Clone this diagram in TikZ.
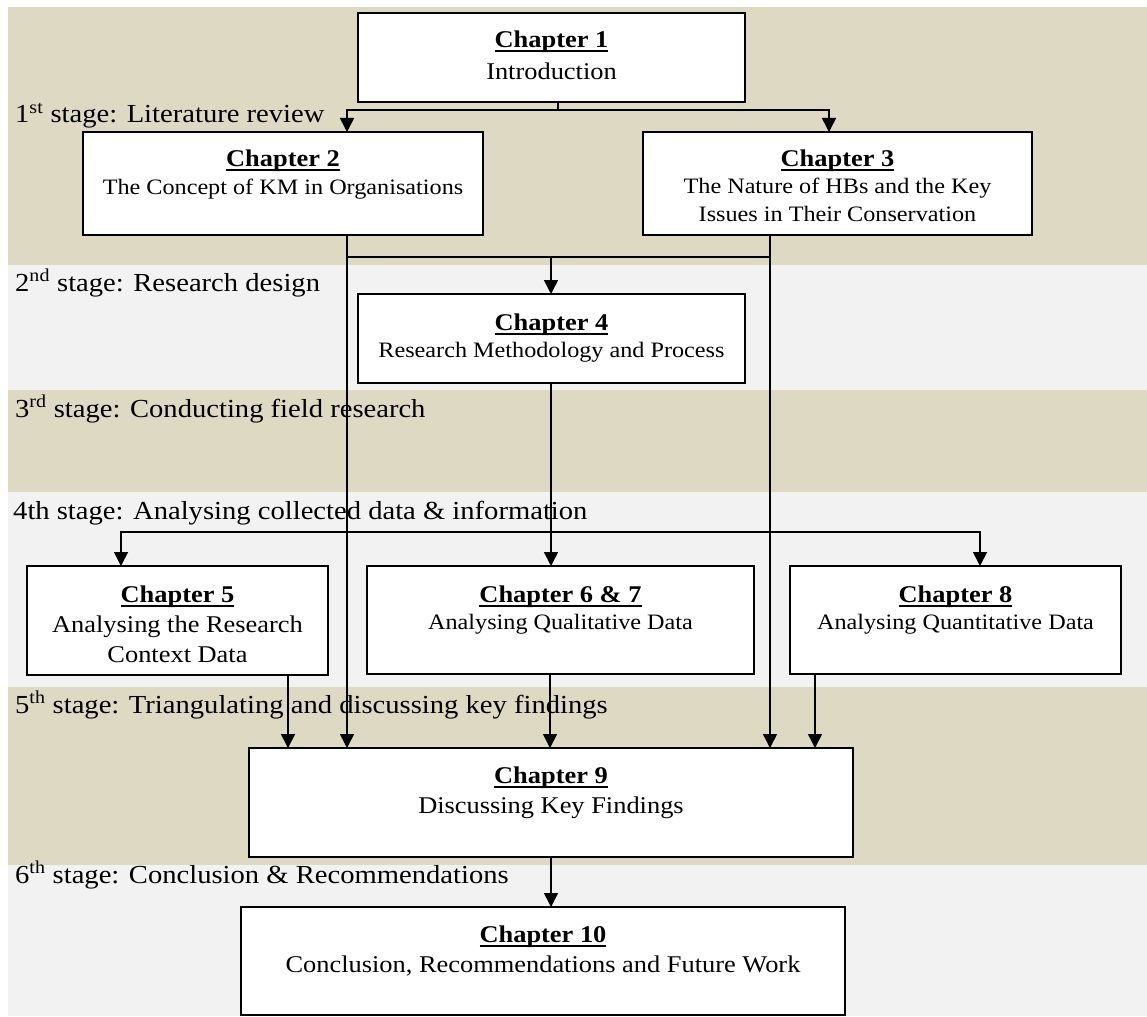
\documentclass[tikz,border=0pt]{standalone}
\usepackage{fontspec}
\setmainfont{Liberation Serif}[FakeStretch=1.1]
\usetikzlibrary{arrows.meta}

\definecolor{bandtan}{HTML}{DDD9C3}
\definecolor{bandgrey}{HTML}{F2F2F2}

% bold chapter heading with a thin underline close to the baseline
\newsavebox\headbox
\newcommand\chapterhead[1]{%
  \sbox\headbox{\bfseries #1}%
  \rlap{\vrule height -2.5pt depth 4.5pt width \wd\headbox}\usebox\headbox}

\tikzset{
  chapterbox/.style={draw=black, line width=1.8pt, fill=white,
    inner sep=0pt, outer sep=0pt, anchor=north west},
  heading/.style={anchor=base, inner sep=0pt, font=\fontsize{24}{28}\selectfont},
  bodytext/.style={anchor=base, inner sep=0pt, font=\fontsize{22}{26}\selectfont},
  bodylarge/.style={anchor=base, inner sep=0pt, font=\fontsize{24}{28}\selectfont},
  stagelabel/.style={anchor=base west, inner sep=0pt, font=\fontsize{26}{31}\selectfont},
  link/.style={line width=1.6pt, black},
  arrowlink/.style={link, -{Triangle[length=14pt,width=14pt]}},
  twoarrows/.style={link, {Triangle[length=14pt,width=14pt]}-{Triangle[length=14pt,width=14pt]}},
}

\begin{document}
\begin{tikzpicture}[x=1pt, y=-1pt]
\useasboundingbox (0,0) rectangle (1147,1016);

% stage bands
\fill[bandtan]  (8,7)   rectangle (1147,265);
\fill[bandgrey] (8,265) rectangle (1147,390);
\fill[bandtan]  (8,390) rectangle (1147,492);
\fill[bandgrey] (8,492) rectangle (1147,687);
\fill[bandtan]  (8,687) rectangle (1147,865);
\fill[bandgrey] (8,865) rectangle (1147,1016);

% stage labels
\node[stagelabel] (s1) at (15,123) {1\textsuperscript{st} stage: Literature review};
\node[stagelabel] (s2) at (15,291) {2\textsuperscript{nd} stage: Research design};
\node[stagelabel] (s3) at (15,417) {3\textsuperscript{rd} stage: Conducting field research};
\node[stagelabel] (s4) at (13,519) {4th stage: Analysing collected data \& information};
\node[stagelabel] (s5) at (15,713) {5\textsuperscript{th} stage: Triangulating and discussing key findings};
\node[stagelabel] (s6) at (15,883) {6\textsuperscript{th} stage: Conclusion \& Recommendations};

% chapter boxes
\node[chapterbox, minimum width=387pt, minimum height=89pt]  (ch1)  at (358,13)  {};
\node[chapterbox, minimum width=400pt, minimum height=103pt] (ch2)  at (83,132)  {};
\node[chapterbox, minimum width=389pt, minimum height=103pt] (ch3)  at (643,132) {};
\node[chapterbox, minimum width=387pt, minimum height=89pt]  (ch4)  at (358,294) {};
\node[chapterbox, minimum width=301pt, minimum height=109pt] (ch5)  at (27,566)  {};
\node[chapterbox, minimum width=387pt, minimum height=108pt] (ch67) at (367,566) {};
\node[chapterbox, minimum width=331pt, minimum height=108pt] (ch8)  at (790,566) {};
\node[chapterbox, minimum width=604pt, minimum height=109pt] (ch9)  at (249,748) {};
\node[chapterbox, minimum width=604pt, minimum height=108pt] (ch10) at (241,907) {};

% chapter texts
\node[heading]   (ch1t)  at ([yshift=-35pt]ch1.north) {\chapterhead{Chapter 1}};
\node[bodylarge] (ch1a)  at ([yshift=-67pt]ch1.north) {Introduction};

\node[heading]   (ch2t)  at ([yshift=-35pt]ch2.north) {\chapterhead{Chapter 2}};
\node[bodytext]  (ch2a)  at ([yshift=-63pt]ch2.north) {The Concept of KM in Organisations};

\node[heading]   (ch3t)  at ([yshift=-35pt]ch3.north) {\chapterhead{Chapter 3}};
\node[bodytext]  (ch3a)  at ([yshift=-62pt]ch3.north) {The Nature of HBs and the Key};
\node[bodytext]  (ch3b)  at ([yshift=-90pt]ch3.north) {Issues in Their Conservation};

\node[heading]   (ch4t)  at ([yshift=-36pt]ch4.north) {\chapterhead{Chapter 4}};
\node[bodytext]  (ch4a)  at ([yshift=-63pt]ch4.north) {Research Methodology and Process};

\node[heading]   (ch5t)  at ([yshift=-36pt]ch5.north) {\chapterhead{Chapter 5}};
\node[bodylarge] (ch5a)  at ([yshift=-66pt]ch5.north) {Analysing the Research};
\node[bodylarge] (ch5b)  at ([yshift=-96pt]ch5.north) {Context Data};

\node[heading]   (ch67t) at ([yshift=-36pt]ch67.north) {\chapterhead{Chapter 6 \& 7}};
\node[bodytext]  (ch67a) at ([yshift=-63pt]ch67.north) {Analysing Qualitative Data};

\node[heading]   (ch8t)  at ([yshift=-36pt]ch8.north) {\chapterhead{Chapter 8}};
\node[bodytext]  (ch8a)  at ([yshift=-63pt]ch8.north) {Analysing Quantitative Data};

\node[heading]   (ch9t)  at ([yshift=-35pt]ch9.north) {\chapterhead{Chapter 9}};
\node[bodylarge] (ch9a)  at ([yshift=-65pt]ch9.north) {Discussing Key Findings};

\node[heading]   (ch10t) at ([yshift=-35pt]ch10.north) {\chapterhead{Chapter 10}};
\node[bodylarge] (ch10a) at ([yshift=-65pt]ch10.north) {Conclusion, Recommendations and Future Work};

% junction points
\coordinate (split1)  at (558,110);
\coordinate (split1l) at (347,110);
\coordinate (split1r) at (829,110);
\coordinate (leftrail)  at (347,0);
\coordinate (rightrail) at (770,0);
\coordinate (merge2)  at (551,257);
\coordinate (split3)  at (551,532);
\coordinate (split3l) at (121,532);
\coordinate (split3r) at (980,532);

% Chapter 1 to the literature review chapters
\draw[link] (ch1.south -| split1) -- (split1);
\draw[twoarrows] (ch2.north -| split1l) -- (split1l) -- (split1r) -- (ch3.north -| split1r);

% literature review feeds research design and the discussion
\draw[arrowlink] (ch2.south -| leftrail) -- (ch9.north -| leftrail);
\draw[arrowlink] (ch3.south -| rightrail) -- (ch9.north -| rightrail);
\draw[link] (merge2 -| leftrail) -- (merge2 -| rightrail);
\draw[arrowlink] (merge2) -- (ch4.north -| merge2);

% research methodology to the analysis chapters
\draw[arrowlink] (ch4.south -| split3) -- (ch67.north -| split3);
\draw[twoarrows] (ch5.north -| split3l) -- (split3l) -- (split3r) -- (ch8.north -| split3r);

% analysis chapters to the discussion
\draw[arrowlink] (288,0 |- ch5.south)  -- (288,0 |- ch9.north);
\draw[arrowlink] (550,0 |- ch67.south) -- (550,0 |- ch9.north);
\draw[arrowlink] (815,0 |- ch8.south)  -- (815,0 |- ch9.north);

% discussion to conclusion
\draw[arrowlink] (551,0 |- ch9.south) -- (551,0 |- ch10.north);
\end{tikzpicture}
\end{document}
